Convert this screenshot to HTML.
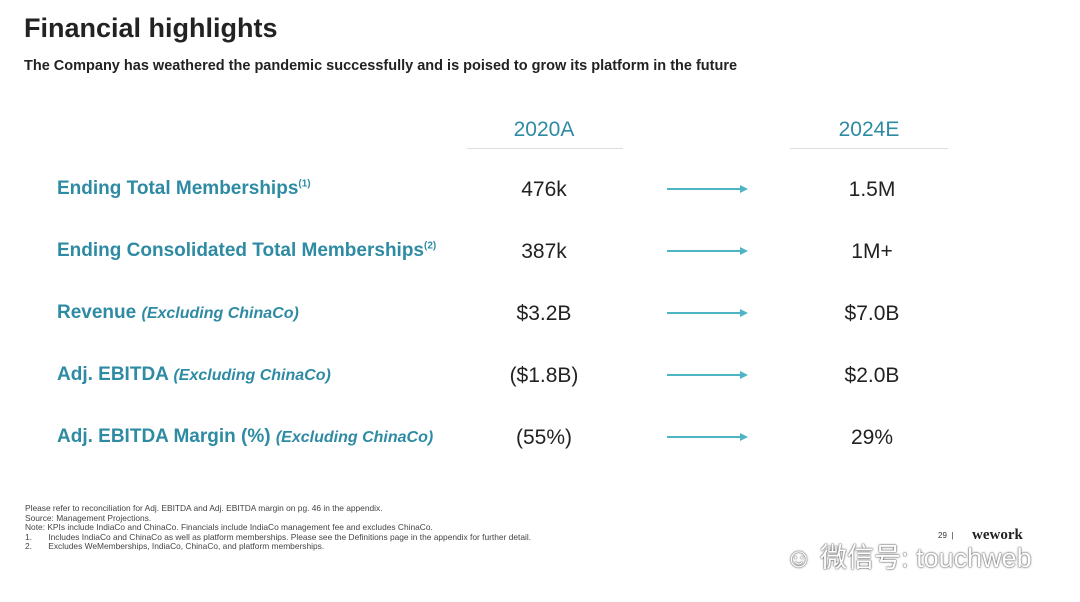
<!DOCTYPE html>
<html><head><meta charset="utf-8"><style>
body{margin:0;width:1080px;height:602px;background:#fff;position:relative;overflow:hidden;font-family:"Liberation Sans",sans-serif;}
.a{position:absolute;white-space:nowrap;}
.t{left:24px;top:13px;font-size:27px;color:#222;font-weight:bold;}
.s{left:24px;top:58px;font-size:14.5px;color:#222;font-weight:bold;}
.h{font-size:21px;color:#2e8ba3;width:160px;text-align:center;top:118px;}
.ln{height:1px;background:#ddd;top:148px;}
.l{left:57px;font-size:19px;color:#2e8ba3;font-weight:bold;}
.l i{font-size:16px;}
.l sup{font-size:10px;}
.v{font-size:21px;color:#222;width:160px;text-align:center;}
.ar{left:667px;width:74px;height:2px;background:#4fb4c4;}
.ar:after{content:"";position:absolute;right:-7px;top:-3px;border-left:8px solid #4fb4c4;border-top:4px solid transparent;border-bottom:4px solid transparent;}
.f{left:25px;font-size:8.4px;color:#444;line-height:9.5px;top:504px;}
</style></head><body>
<div class="a t">Financial highlights</div>
<div class="a s">The Company has weathered the pandemic successfully and is poised to grow its platform in the future</div>
<div class="a h" style="left:464px">2020A</div>
<div class="a h" style="left:789px">2024E</div>
<div class="a ln" style="left:467px;width:156px"></div>
<div class="a ln" style="left:790px;width:158px"></div>

<div class="a l" style="top:178px">Ending Total Memberships<sup>(1)</sup></div>
<div class="a l" style="top:240px">Ending Consolidated Total Memberships<sup>(2)</sup></div>
<div class="a l" style="top:302px">Revenue <i>(Excluding ChinaCo)</i></div>
<div class="a l" style="top:364px">Adj. EBITDA <i>(Excluding ChinaCo)</i></div>
<div class="a l" style="top:426px">Adj. EBITDA Margin (%) <i>(Excluding ChinaCo)</i></div>

<div class="a v" style="left:464px;top:178px">476k</div>
<div class="a v" style="left:464px;top:240px">387k</div>
<div class="a v" style="left:464px;top:302px">$3.2B</div>
<div class="a v" style="left:464px;top:364px">($1.8B)</div>
<div class="a v" style="left:464px;top:426px">(55%)</div>

<div class="a v" style="left:792px;top:178px">1.5M</div>
<div class="a v" style="left:792px;top:240px">1M+</div>
<div class="a v" style="left:792px;top:302px">$7.0B</div>
<div class="a v" style="left:792px;top:364px">$2.0B</div>
<div class="a v" style="left:792px;top:426px">29%</div>

<div class="a ar" style="top:188px"></div>
<div class="a ar" style="top:250px"></div>
<div class="a ar" style="top:312px"></div>
<div class="a ar" style="top:374px"></div>
<div class="a ar" style="top:436px"></div>

<div class="a f">Please refer to reconciliation for Adj. EBITDA and Adj. EBITDA margin on pg. 46 in the appendix.<br>Source: Management Projections.<br>Note: KPIs include IndiaCo and ChinaCo. Financials include IndiaCo management fee and excludes ChinaCo.<br>1.&nbsp;&nbsp;&nbsp;&nbsp;&nbsp;&nbsp;&nbsp;Includes IndiaCo and ChinaCo as well as platform memberships. Please see the Definitions page in the appendix for further detail.<br>2.&nbsp;&nbsp;&nbsp;&nbsp;&nbsp;&nbsp;&nbsp;Excludes WeMemberships, IndiaCo, ChinaCo, and platform memberships.</div>
<div class="a" style="left:938px;top:531px;font-size:8px;color:#333">29 &nbsp;|</div>
<div class="a" style="left:972px;top:527px;font-size:15px;font-weight:bold;color:#222;font-family:'Liberation Serif',serif">wework</div>
<div class="a" style="left:785px;top:536px;font-size:27px;color:#fff;text-shadow:0 0 2px #555,0 0 1px #333;font-family:'Liberation Sans','Noto Sans CJK SC',sans-serif">☺ 微信号: touchweb</div>
</body></html>
